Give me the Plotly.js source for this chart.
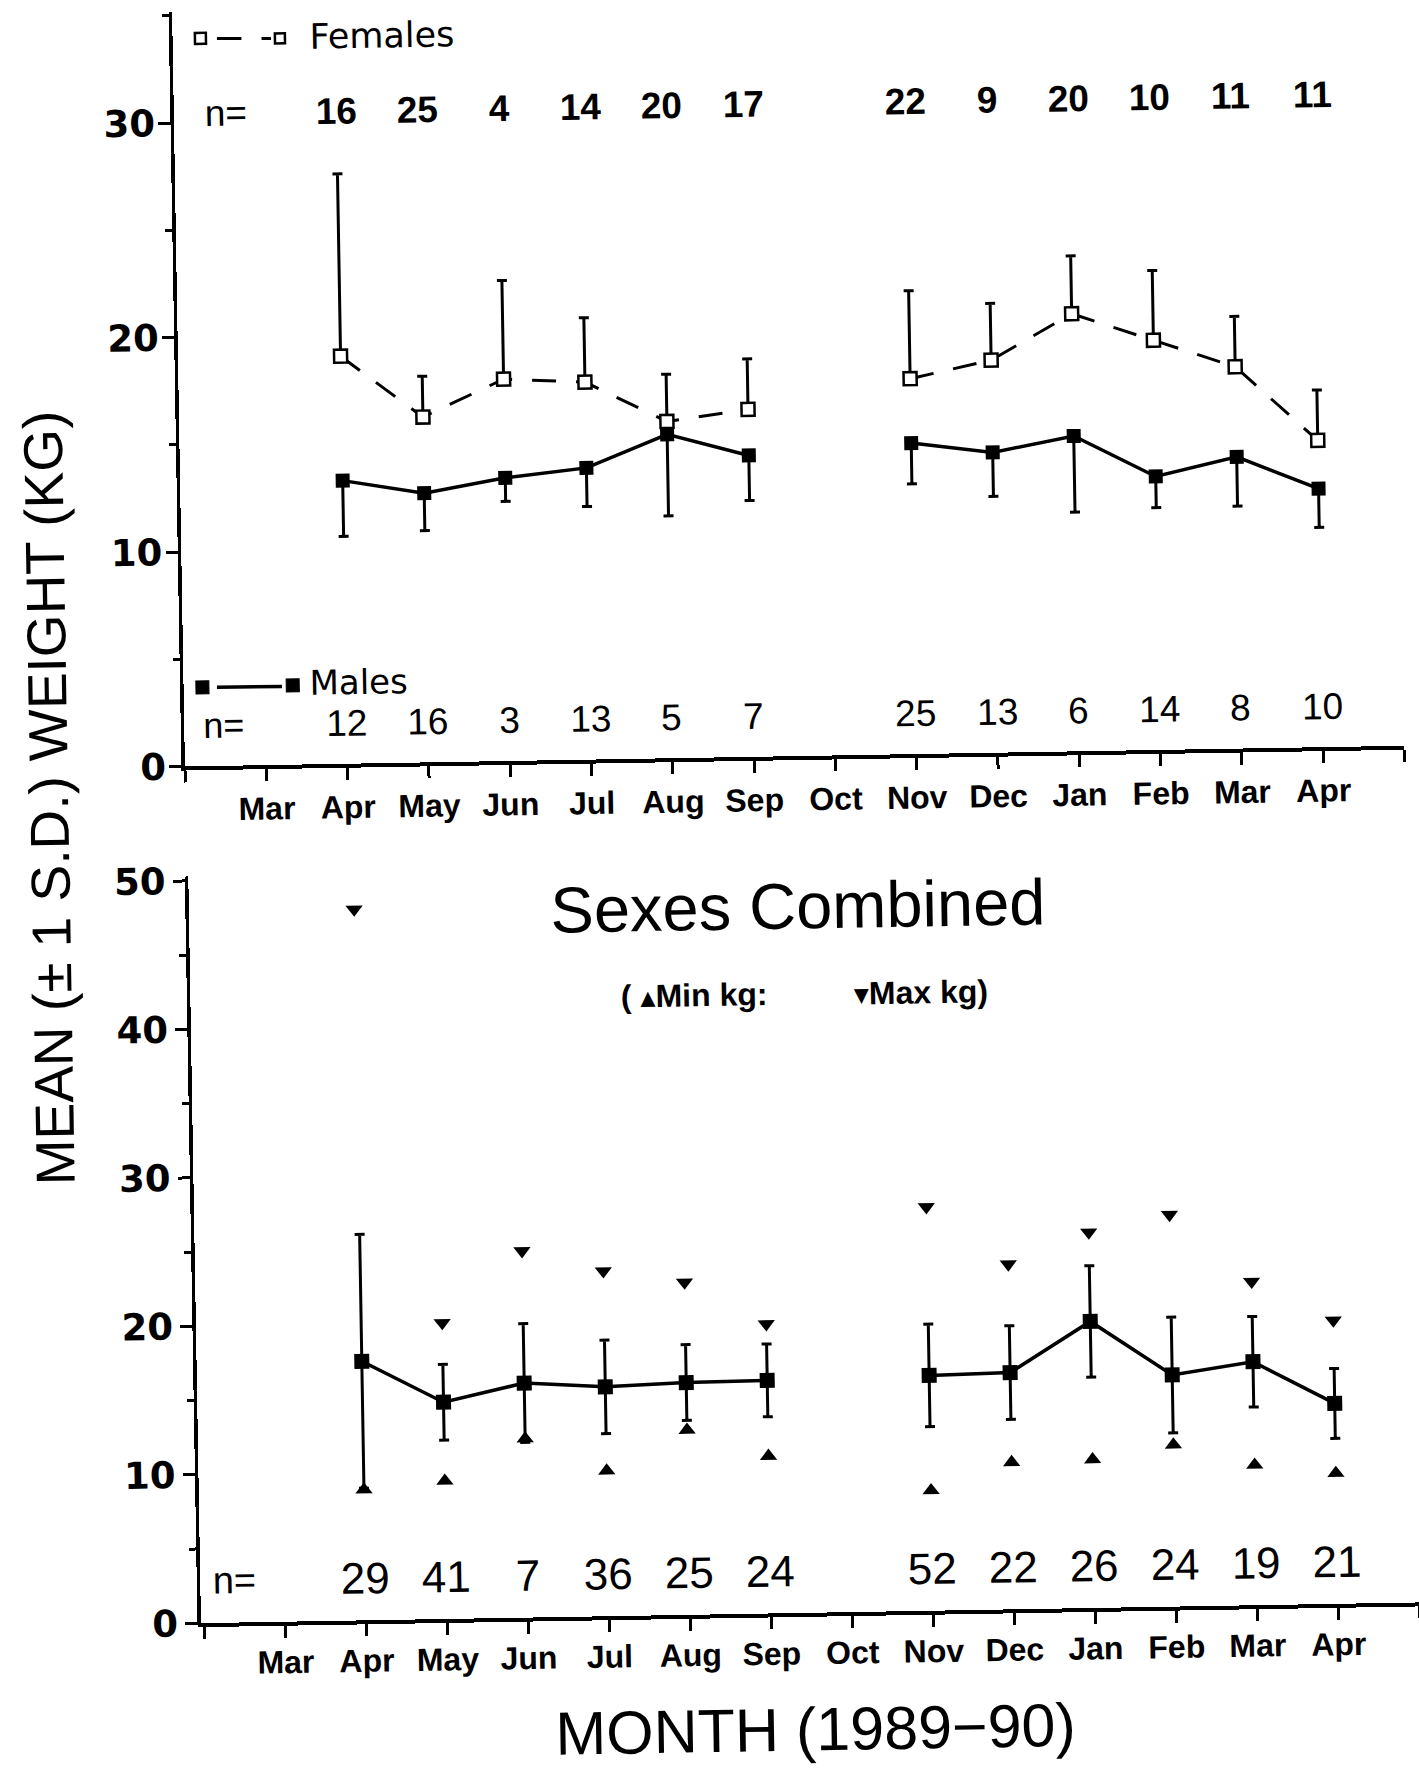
<!DOCTYPE html>
<html><head><meta charset="utf-8">
<script src="https://cdn.plot.ly/plotly-3.0.1.min.js"></script>
<style>
html,body{margin:0;padding:0;background:#fff;overflow:hidden;width:1419px;height:1769px}
#chart{width:1419px;height:1769px;transform:rotate(-0.974deg);transform-origin:709.5px 884.5px}
</style>
</head><body><div id="chart"></div>
<script>
// ---------------- data ----------------
const months = ['Mar','Apr','May','Jun','Jul','Aug','Sep','Oct','Nov','Dec','Jan','Feb','Mar','Apr'];
const femaleMean = [null, 19.0, 16.1, 17.8, 17.6, 15.7, 16.2, null, 17.5, 18.3, 20.4, 19.1, 17.8, 14.3];
const femaleSD   = [null, 8.5, 1.9, 4.6, 3.0, 2.2, 2.35, null, 4.1, 2.65, 2.7, 3.25, 2.35, 2.35];
const femaleN    = [null, 16, 25, 4, 14, 20, 17, null, 22, 9, 20, 10, 11, 11];
const maleMean   = [null, 13.2, 12.55, 13.2, 13.6, 15.1, 14.05, null, 14.5, 14.0, 14.7, 12.75, 13.6, 12.05];
const maleSD     = [null, 2.6, 1.75, 1.1, 1.8, 3.8, 2.1, null, 1.9, 2.05, 3.55, 1.45, 2.3, 1.8];
const maleN      = [null, 12, 16, 3, 13, 5, 7, null, 25, 13, 6, 14, 8, 10];
const allMean    = [null, 17.45, 14.6, 15.8, 15.45, 15.65, 15.7, null, 15.85, 15.95, 19.3, 15.6, 16.4, 13.5];
const allSD      = [null, 8.55, 2.55, 4.0, 3.15, 2.55, 2.45, null, 3.45, 3.15, 3.75, 3.9, 3.05, 2.35];
const allMin     = [null, 8.8, 9.3, 12.05, 9.8, 12.45, 10.6, null, 8.1, 9.9, 10.0, 10.9, 9.45, 8.8];
const allMax     = [null, 47.9, 19.95, 24.7, 23.25, 22.4, 19.5, null, 27.2, 23.25, 25.3, 26.4, 21.8, 19.1];
const allN       = [null, 29, 41, 7, 36, 25, 24, null, 52, 22, 26, 24, 19, 21];

// ---------------- helpers ----------------
const W = 1419, H = 1769, TH = 0.017, CX = 709.5, CY = 884.5;
// map a position measured on the (slightly tilted) scan to the un-rotated page
function U(xp, yp){ return [xp - (yp - CY) * TH, yp + (xp - CX) * TH]; }
function P(xp, yp){ const u = U(xp, yp); return {x: u[0] / W, y: 1 - u[1] / H}; }

const pos = months.map((m, i) => i + 1);
const zeroF = femaleMean.map(v => v == null ? null : 0);
const zeroM = maleMean.map(v => v == null ? null : 0);

const LB = 'Liberation Sans, Arial, sans-serif';
const NAR = 'Liberation Sans Narrow, Liberation Sans, Arial, sans-serif';
const DJ = 'DejaVu Sans, sans-serif';
const BLK = '#000';

const traces = [
  { x: pos, y: maleMean, xaxis: 'x', yaxis: 'y', mode: 'lines+markers', connectgaps: false,
    line: {color: BLK, width: 3.5},
    marker: {symbol: 'square', size: 14, color: BLK},
    error_y: {type: 'data', symmetric: false, array: zeroM, arrayminus: maleSD, color: BLK, thickness: 3, width: 5} },
  { x: pos, y: femaleMean, xaxis: 'x', yaxis: 'y', mode: 'lines+markers', connectgaps: false,
    line: {color: BLK, width: 3, dash: '24px,20px'},
    marker: {symbol: 'square', size: 13, color: '#fff', line: {color: BLK, width: 2.5}},
    error_y: {type: 'data', symmetric: false, array: femaleSD, arrayminus: zeroF, color: BLK, thickness: 3, width: 5} },
  { x: pos, y: allMean, xaxis: 'x2', yaxis: 'y2', mode: 'lines+markers', connectgaps: false,
    line: {color: BLK, width: 3.5},
    marker: {symbol: 'square', size: 15, color: BLK},
    error_y: {type: 'data', array: allSD, color: BLK, thickness: 3, width: 5} },
  { x: pos, y: allMin, xaxis: 'x2', yaxis: 'y2', mode: 'markers',
    marker: {symbol: 'triangle-up', size: 15, color: BLK} },
  { x: pos, y: allMax, xaxis: 'x2', yaxis: 'y2', mode: 'markers',
    marker: {symbol: 'triangle-down', size: 15, color: BLK} }
];

const tickvals = [0].concat(pos, [15]);
const ticktext = [''].concat(months, ['']);
const xCommon = {
  tickmode: 'array', tickvals: tickvals, ticktext: ticktext,
  ticks: 'outside', ticklen: 12, tickwidth: 3, tickcolor: BLK,
  showline: true, linewidth: 4, linecolor: BLK, showgrid: false, zeroline: false,
  tickfont: {family: LB, size: 32, color: BLK, weight: 'bold'}, ticklabelstandoff: 0
};
const yCommon = {
  tickmode: 'linear', tick0: 0, dtick: 10,
  ticks: 'outside', ticklen: 12, tickwidth: 3, tickcolor: BLK,
  minor: {tickmode: 'linear', tick0: 0, dtick: 5, ticks: 'outside', ticklen: 7, tickwidth: 3, tickcolor: BLK},
  showline: true, linewidth: 3.5, linecolor: BLK, showgrid: false, zeroline: false,
  tickfont: {family: DJ, size: 37, color: BLK, weight: 'bold'}, ticklabelstandoff: -4
};

const layout = {
  width: W, height: H, margin: {l: 0, r: 0, t: 0, b: 0},
  paper_bgcolor: '#fff', plot_bgcolor: 'rgba(0,0,0,0)', showlegend: false,
  xaxis: Object.assign({}, xCommon, {domain: [187 / W, 1406.5 / W], range: [0, 15], anchor: 'y'}),
  yaxis: Object.assign({}, yCommon, {domain: [1 - 757.6 / H, 1 - 2.5 / H], range: [0, 35.2], anchor: 'x'}),
  xaxis2: Object.assign({}, xCommon, {domain: [188.5 / W, 1406.8 / W], range: [-0.04, 15], anchor: 'y2',
    ticklabelstandoff: -3}),
  yaxis2: Object.assign({}, yCommon, {domain: [1 - 1614.4 / H, 1 - 867.6 / H], range: [0, 50.3], anchor: 'x2',
    ticklabelstandoff: 0}),
  annotations: [], shapes: []
};

function paperText(text, xp, yp, font, extra){
  const p = P(xp, yp);
  layout.annotations.push(Object.assign({xref: 'paper', yref: 'paper', x: p.x, y: p.y, text: text,
    showarrow: false, xanchor: 'center', yanchor: 'middle', font: font}, extra || {}));
}
const TRI = 'font-family:DejaVu Sans;font-size:30px';
// axis titles, panel titles, legends
paperText('MEAN (± 1 S.D.) WEIGHT (KG)', 49, 798, {family: LB, size: 55, color: BLK}, {textangle: -90});
paperText('Sexes Combined', 798, 906, {family: LB, size: 65, color: BLK});
paperText('( <span style="' + TRI + '">▴</span>Min kg:', 694, 995, {family: LB, size: 32, color: BLK, weight: 'bold'});
paperText('<span style="' + TRI + '">▾</span>Max kg)', 921, 992.5, {family: LB, size: 32, color: BLK, weight: 'bold'});
paperText('MONTH (1989−90)', 815, 1729, {family: LB, size: 61, color: BLK});
paperText('Females', 308, 37, {family: DJ, size: 35, color: BLK}, {xanchor: 'left', height: 34});
paperText('Males', 308, 683, {family: DJ, size: 34, color: BLK}, {xanchor: 'left', height: 30});

// legend glyphs
function sq(cx, cy, s, fill, lw){
  const u = U(cx, cy);
  layout.shapes.push({type: 'rect', xref: 'paper', yref: 'paper',
    x0: (u[0] - s / 2) / W, x1: (u[0] + s / 2) / W, y0: 1 - (u[1] + s / 2) / H, y1: 1 - (u[1] - s / 2) / H,
    fillcolor: fill, line: {color: BLK, width: lw}, layer: 'above'});
}
function seg(x0, y0, x1, y1, lw){
  const a = U(x0, y0), b = U(x1, y1);
  layout.shapes.push({type: 'line', xref: 'paper', yref: 'paper',
    x0: a[0] / W, y0: 1 - a[1] / H, x1: b[0] / W, y1: 1 - b[1] / H, line: {color: BLK, width: lw}});
}
seg(217, 38.5, 241.5, 38.5, 3); seg(261.6, 38.5, 271, 38.5, 3);
sq(200.5, 38.5, 11, '#fff', 2.5); sq(280, 38.5, 10, '#fff', 2.5);
seg(217, 687.3, 282, 686.5, 3.5);
sq(202.5, 687.5, 13, BLK, 1); sq(292.8, 685.5, 13, BLK, 1);

// sample sizes
function nRow(arr, yv, xref, yref, font, nx, nsize, h){
  layout.annotations.push({xref: xref, yref: yref, x: nx, y: yv, text: 'n=', showarrow: false,
    xanchor: 'center', yanchor: 'middle', height: h, font: {family: LB, size: nsize, color: BLK}});
  arr.forEach((n, i) => {
    if (n == null) return;
    layout.annotations.push({xref: xref, yref: yref, x: pos[i], y: yv, text: String(n), showarrow: false,
      xanchor: 'center', yanchor: 'middle', height: h, font: font});
  });
}
nRow(femaleN, 30.4, 'x', 'y', {family: NAR, size: 37, color: BLK, weight: 'bold'}, 0.64, 37, 34);
nRow(maleN, 1.9, 'x', 'y', {family: NAR, size: 37, color: BLK}, 0.49, 36, 30);
nRow(allN, 2.83, 'x2', 'y2', {family: NAR, size: 44, color: BLK}, 0.385, 38, 38);

Plotly.newPlot('chart', traces, layout, {staticPlot: true, displayModeBar: false});
</script></body></html>
